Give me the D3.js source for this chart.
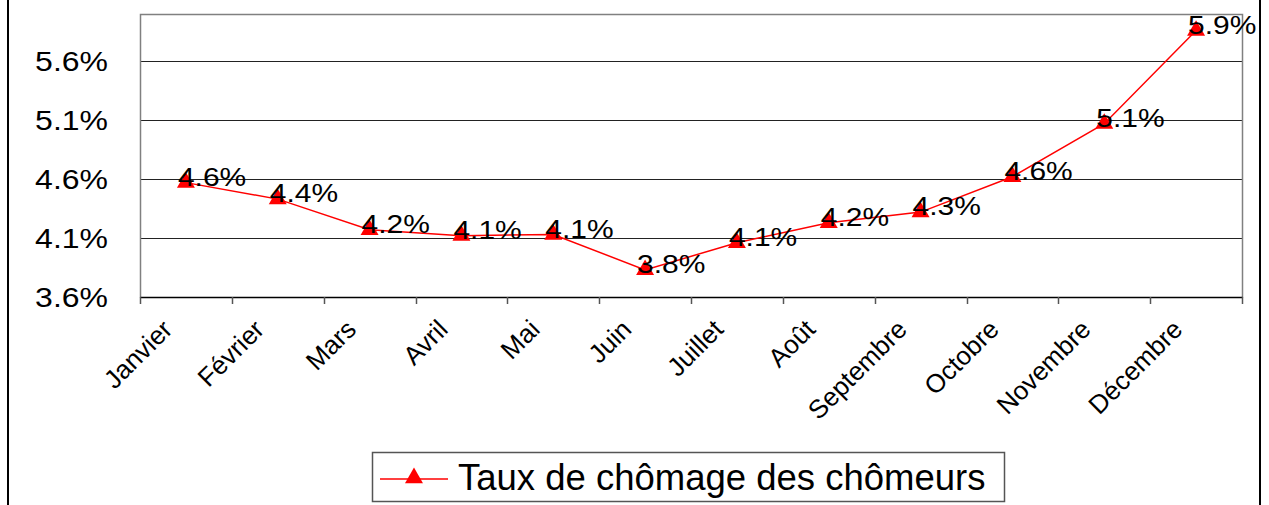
<!DOCTYPE html>
<html>
<head>
<meta charset="utf-8">
<script src="https://cdn.jsdelivr.net/npm/d3@7"></script>
<style>
  body { margin: 0; background: #fff; }
  svg text { font-family: "Liberation Sans", Arial, sans-serif; fill: #000; }
</style>
</head>
<body>
<div id="container"></div>
<script>
// Data
const months = ["Janvier", "Février", "Mars", "Avril", "Mai", "Juin", "Juillet",
  "Août", "Septembre", "Octobre", "Novembre", "Décembre"];
const rates = [4.57, 4.43, 4.17, 4.12, 4.13, 3.83, 4.06, 4.23, 4.32, 4.62, 5.07, 5.86];
const yTicks = [3.6, 4.1, 4.6, 5.1, 5.6];
const seriesName = "Taux de chômage des chômeurs";

// Chart dimensions
const width = 1269;
const height = 505;
const marginTop = 14;
const marginRight = 27;
const marginBottom = 208;
const marginLeft = 140;

const x = d3.scaleBand()
  .domain(months)
  .range([marginLeft, width - marginRight]);

const y = d3.scaleLinear()
  .domain([3.6, 6.0])
  .range([height - marginBottom, marginTop]);

const fmt = (v) => d3.format(".1f")(v) + "%";

const svg = d3.create("svg").attr("width", width).attr("height", height);
document.getElementById("container").appendChild(svg.node());

// outer frame (only left and right sides are visible)
svg.append("line").attr("x1", 8).attr("x2", 8).attr("y1", 0).attr("y2", height)
  .attr("stroke", "#000").attr("stroke-width", 2);
svg.append("line").attr("x1", 1260).attr("x2", 1260).attr("y1", 0).attr("y2", height)
  .attr("stroke", "#000").attr("stroke-width", 2);

// gridlines
svg.append("g")
  .selectAll("line")
  .data(yTicks.slice(1))
  .join("line")
  .attr("x1", marginLeft)
  .attr("x2", width - marginRight)
  .attr("y1", (d) => Math.round(y(d)) + 0.5)
  .attr("y2", (d) => Math.round(y(d)) + 0.5)
  .attr("stroke", "#222")
  .attr("stroke-width", 1);

// plot frame: left, top, right in grey
const x0 = marginLeft + 0.5, x1 = width - marginRight + 0.5;
const yTop = marginTop + 0.5, yBot = height - marginBottom + 0.5;
svg.append("path")
  .attr("d", `M${x0},${yBot}V${yTop}H${x1}V${yBot}`)
  .attr("fill", "none")
  .attr("stroke", "#808080")
  .attr("stroke-width", 1.5);

// y-axis labels
svg.append("g")
  .selectAll("text")
  .data(yTicks)
  .join("text")
  .attr("transform", (d) => `translate(108,${y(d)}) scale(1,0.88)`)
  .attr("text-anchor", "end")
  .attr("dy", "0.35em")
  .attr("font-size", 32)
  .text(fmt);

// x-axis
const xAxis = svg.append("g")
  .attr("transform", `translate(0,${height - marginBottom})`)
  .call(d3.axisBottom(x).tickSize(0).tickFormat(""));
xAxis.select(".domain").attr("stroke", "#000").attr("stroke-width", 1.5);

const tickPos = months.map((m) => x(m)).concat([x.range()[1]]);
svg.append("g")
  .selectAll("line")
  .data(tickPos)
  .join("line")
  .attr("x1", (d) => Math.round(d) + 0.5)
  .attr("x2", (d) => Math.round(d) + 0.5)
  .attr("y1", height - marginBottom)
  .attr("y2", height - marginBottom + 7)
  .attr("stroke", "#555")
  .attr("stroke-width", 1.5);

svg.append("g")
  .selectAll("text")
  .data(months)
  .join("text")
  .attr("transform", (d) =>
    `translate(${x(d) + x.bandwidth() / 2 - 12},${height - marginBottom + 34}) rotate(-45)`)
  .attr("text-anchor", "end")
  .attr("font-size", 26)
  .text((d) => d);

// series line
const cx = (d, i) => x(months[i]) + x.bandwidth() / 2;
svg.append("path")
  .datum(rates)
  .attr("fill", "none")
  .attr("stroke", "#ff0000")
  .attr("stroke-width", 1.5)
  .attr("d", d3.line().x(cx).y((d) => y(d)));

// triangle markers
const tri = d3.symbol().type(d3.symbolTriangle).size(140);
svg.append("g")
  .selectAll("path")
  .data(rates)
  .join("path")
  .attr("transform", (d, i) => `translate(${cx(d, i)},${y(d)})`)
  .attr("fill", "#ff0000")
  .attr("d", tri);

// data labels
svg.append("g")
  .selectAll("text")
  .data(rates)
  .join("text")
  .attr("transform", (d, i) => `translate(${cx(d, i) - 8},${y(d) + 3}) scale(1,0.88)`)
  .attr("font-size", 30)
  .text(fmt);

// legend
const legend = svg.append("g");
legend.append("rect")
  .attr("x", 372.5).attr("y", 452.5)
  .attr("width", 632).attr("height", 49)
  .attr("fill", "#fff")
  .attr("stroke", "#555")
  .attr("stroke-width", 1.5);
legend.append("line")
  .attr("x1", 380).attr("x2", 448)
  .attr("y1", 479).attr("y2", 479)
  .attr("stroke", "#ff0000").attr("stroke-width", 1.5);
legend.append("path")
  .attr("transform", "translate(414,478)")
  .attr("fill", "#ff0000")
  .attr("d", tri);
legend.append("text")
  .attr("x", 458).attr("y", 490)
  .attr("font-size", 36.5)
  .text(seriesName);
</script>
</body>
</html>
